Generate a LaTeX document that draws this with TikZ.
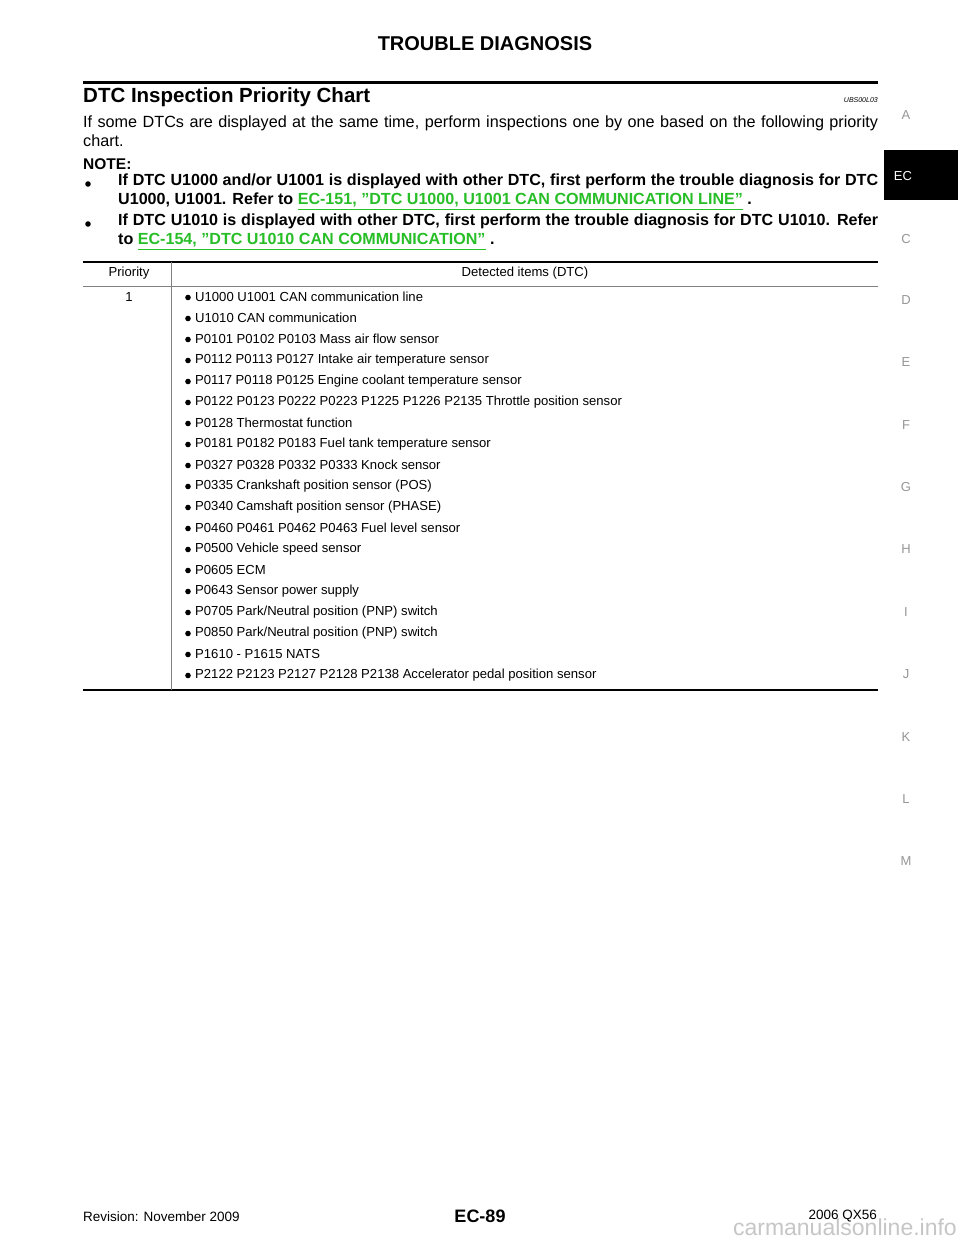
\documentclass[tikz,border=0pt]{standalone}
\usepackage{fontspec}
\defaultfontfeatures{}
\setmainfont{Liberation Sans}
\definecolor{lnk}{RGB}{40,190,40}
\definecolor{tabg}{RGB}{150,150,150}
\newcommand{\lk}[1]{\textcolor{lnk}{\underline{#1}}}
\newcommand{\qq}{\symbol{34}}
\begin{document}
\begin{tikzpicture}[x=1pt,y=-1pt,
  tab/.style={anchor=center,text=tabg,font=\fontsize{13}{13}\selectfont},
  item/.style={anchor=west,inner sep=0,font=\fontsize{13.1}{12}\selectfont},
  para/.style={anchor=north west,inner sep=0,text width=795pt,align=justify,font=\fontsize{16.2}{19}\selectfont}]
\useasboundingbox[fill=white] (0,0) rectangle (960,1242);
\node[anchor=east,text=gray!45,inner sep=0,font=\fontsize{23}{23}\selectfont] (wm) at (957,1227) {carmanualsonline.info};
\node[font=\bfseries\fontsize{20}{20}\selectfont] (hdr) at (485,44) {TROUBLE DIAGNOSIS};
\draw[line width=3pt] (83,82) -- (878,82);
\node[anchor=west,inner sep=0,font=\bfseries\fontsize{20.5}{20}\selectfont] (ttl) at (83,97) {DTC Inspection Priority Chart};
\node[anchor=east,inner sep=0,font=\itshape\fontsize{7}{7}\selectfont] (code) at (878,100) {UBS00L03};
\node[para] (intro) at (83,116) {If some DTCs are displayed at the same time, perform inspections one by one based on the following priority chart.};
\node[anchor=west,inner sep=0,font=\bfseries\fontsize{15.5}{15}\selectfont] (note) at (83,164) {NOTE:};
\fill (88,184) circle (2.8) (88,224) circle (2.8);
\node[para,text width=760pt,font=\bfseries\fontsize{16.1}{19}\selectfont] (n1) at (118,174) {If DTC U1000 and/or U1001 is displayed with other DTC, first perform the trouble diagnosis for DTC U1000, U1001. Refer to \lk{EC-151, \qq DTC U1000, U1001 CAN COMMUNICATION LINE\qq} .};
\node[para,text width=760pt,font=\bfseries\fontsize{16.1}{19}\selectfont] (n2) at (118,214) {If DTC U1010 is displayed with other DTC, first perform the trouble diagnosis for DTC U1010. Refer to \lk{EC-154, \qq DTC U1010 CAN COMMUNICATION\qq} .};
% table
\draw[line width=2pt] (83,262) -- (878,262);
\draw[line width=1.5pt,gray] (83,286.5) -- (878,286.5);
\draw[line width=2pt] (83,690) -- (878,690);
\draw[line width=0.8pt,gray] (171,262) -- (171,690);
\node[font=\fontsize{13.1}{12}\selectfont] (ph) at (129,273) {Priority};
\node[font=\fontsize{13.1}{12}\selectfont] (dh) at (525,273) {Detected items (DTC)};
\node[font=\fontsize{13.1}{12}\selectfont] (p1) at (129,297) {1};
\foreach [count=\i from 0] \t in {U1000 U1001 CAN communication line,U1010 CAN communication,P0101 P0102 P0103 Mass air flow sensor,P0112 P0113 P0127 Intake air temperature sensor,P0117 P0118 P0125 Engine coolant temperature sensor,P0122 P0123 P0222 P0223 P1225 P1226 P2135 Throttle position sensor,P0128 Thermostat function,P0181 P0182 P0183 Fuel tank temperature sensor,P0327 P0328 P0332 P0333 Knock sensor,P0335 Crankshaft position sensor (POS),P0340 Camshaft position sensor (PHASE),P0460 P0461 P0462 P0463 Fuel level sensor,P0500 Vehicle speed sensor,P0605 ECM,P0643 Sensor power supply,P0705 Park/Neutral position (PNP) switch,P0850 Park/Neutral position (PNP) switch,P1610 - P1615 NATS,P2122 P2123 P2127 P2128 P2138 Accelerator pedal position sensor}{
  \fill (188,{297.5+21*\i}) circle (2.8);
  \node[item] (it\i) at (195,{297+21*\i}) {\t};
}
% side tabs
\fill (884,150) rectangle (958,200);
\node[text=white,font=\fontsize{13}{13}\selectfont] (ec) at (903,176) {EC};
\foreach \l/\y in {A/115,C/239,D/300,E/362,F/425,G/487,H/549,I/612,J/674,K/737,L/799,M/861}{
  \node[tab] (tab\l) at (906,\y) {\l};
}
% footer
\node[anchor=west,inner sep=0,font=\fontsize{13.5}{14}\selectfont] (rev) at (83,1217) {Revision: November 2009};
\node[font=\bfseries\fontsize{18}{18}\selectfont] (pg) at (480,1216) {EC-89};
\node[anchor=east,inner sep=0,font=\fontsize{13.5}{14}\selectfont] (yr) at (877,1216) {2006 QX56};
\end{tikzpicture}
\end{document}
